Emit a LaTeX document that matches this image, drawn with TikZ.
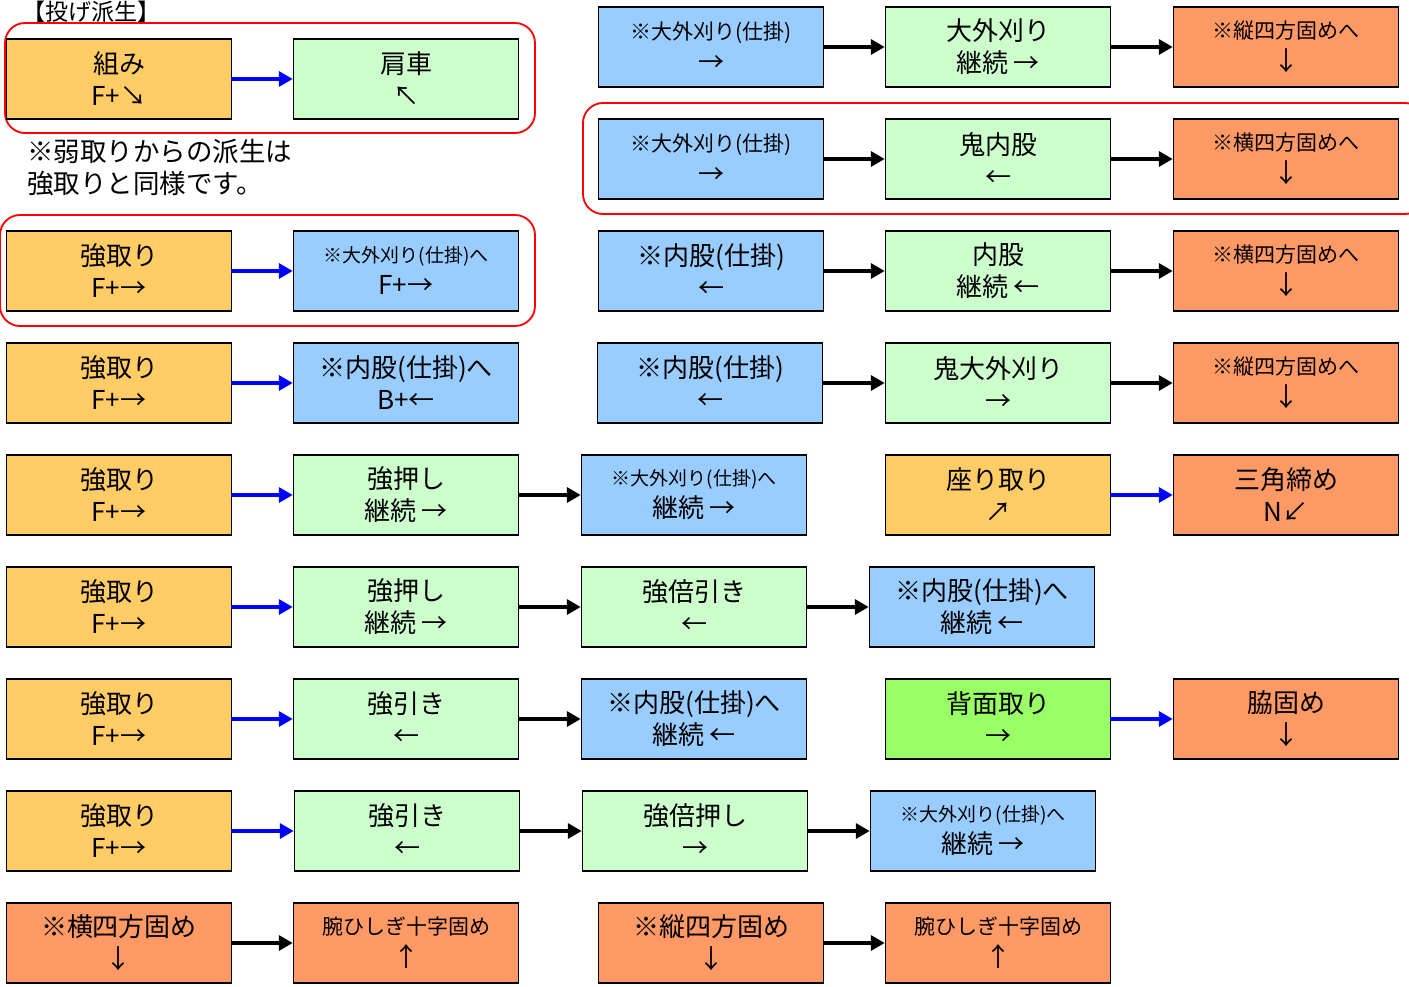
\documentclass[tikz,border=0pt]{standalone}
\usepackage{fontspec}
\setmainfont{Noto Sans CJK JP}
\usetikzlibrary{arrows.meta}
\definecolor{cyel}{HTML}{FFCC66}
\definecolor{cgrn}{HTML}{CCFFCC}
\definecolor{cblu}{HTML}{99CCFF}
\definecolor{corg}{HTML}{FF9966}
\definecolor{cbgr}{HTML}{99FF66}
\newcommand{\sm}{\fontsize{21}{29}\selectfont}
\newcommand{\xs}{\fontsize{19}{28}\selectfont}
\begin{document}
\begin{tikzpicture}[x=1pt,y=-1pt,
  bx/.style={draw=black, line width=1.5pt, minimum width=225pt, minimum height=80pt, inner sep=0pt, align=center, font=\fontsize{26}{32}\selectfont},
  yel/.style={bx, fill=cyel}, grn/.style={bx, fill=cgrn}, blu/.style={bx, fill=cblu}, org/.style={bx, fill=corg}, bgr/.style={bx, fill=cbgr},
  barr/.style={draw=blue, line width=4pt, -{Triangle[length=14pt,width=15pt]}, shorten <=-1pt},
  karr/.style={draw=black, line width=4pt, -{Triangle[length=14pt,width=15pt]}, shorten <=-1pt},
  grp/.style={draw=red, line width=1.8pt, rounded corners=20pt},
  txt/.style={inner sep=0pt, font=\fontsize{26.5}{32}\selectfont, align=left}]
\useasboundingbox (0,0) rectangle (1409,987);
% red groups
\draw[grp] (5,23) rectangle (535,133);
\draw[grp] (0,215) rectangle (535,326);
\draw[grp] (583,103) rectangle (1425,214);
% title and note
\node[txt, anchor=west, font=\fontsize{23}{28}\selectfont] (title) at (22,12) {【投げ派生】};
\node[txt, anchor=north west] (note) at (27,139) {※弱取りからの派生は\\強取りと同様です。};
% left rows
\node[yel] (L1a) at (119,79) {組み\\F+↘};
\node[grn] (L1b) at (406,79) {肩車\\↖};
\node[yel] (L2a) at (119,271) {強取り\\F+→};
\node[blu] (L2b) at (406,271) {{\xs ※大外刈り(仕掛)へ}\\F+→};
\node[yel] (L3a) at (119,383) {強取り\\F+→};
\node[blu] (L3b) at (406,383) {※内股(仕掛)へ\\B+←};
\node[yel] (L4a) at (119,495) {強取り\\F+→};
\node[grn] (L4b) at (406,495) {強押し\\継続 →};
\node[blu] (L4c) at (694,495) {{\xs ※大外刈り(仕掛)へ}\\継続 →};
\node[yel] (L5a) at (119,607) {強取り\\F+→};
\node[grn] (L5b) at (406,607) {強押し\\継続 →};
\node[grn] (L5c) at (694,607) {強倍引き\\←};
\node[blu] (L5d) at (982,607) {※内股(仕掛)へ\\継続 ←};
\node[yel] (L6a) at (119,719) {強取り\\F+→};
\node[grn] (L6b) at (406,719) {強引き\\←};
\node[blu] (L6c) at (694,719) {※内股(仕掛)へ\\継続 ←};
\node[yel] (L7a) at (119,831) {強取り\\F+→};
\node[grn] (L7b) at (407,831) {強引き\\←};
\node[grn] (L7c) at (695,831) {強倍押し\\→};
\node[blu] (L7d) at (983,831) {{\xs ※大外刈り(仕掛)へ}\\継続 →};
\node[org] (L8a) at (119,943) {※横四方固め\\↓};
\node[org] (L8b) at (406,943) {{\sm 腕ひしぎ十字固め}\\↑};
% right rows
\node[blu] (RAa) at (711,47) {{\sm ※大外刈り(仕掛)}\\→};
\node[grn] (RAb) at (998,47) {大外刈り\\継続 →};
\node[org] (RAc) at (1286,47) {{\sm ※縦四方固めへ}\\↓};
\node[blu] (RBa) at (711,159) {{\sm ※大外刈り(仕掛)}\\→};
\node[grn] (RBb) at (998,159) {鬼内股\\←};
\node[org] (RBc) at (1286,159) {{\sm ※横四方固めへ}\\↓};
\node[blu] (RCa) at (711,271) {※内股(仕掛)\\←};
\node[grn] (RCb) at (998,271) {内股\\継続 ←};
\node[org] (RCc) at (1286,271) {{\sm ※横四方固めへ}\\↓};
\node[blu] (RDa) at (710,383) {※内股(仕掛)\\←};
\node[grn] (RDb) at (998,383) {鬼大外刈り\\→};
\node[org] (RDc) at (1286,383) {{\sm ※縦四方固めへ}\\↓};
\node[yel] (REa) at (998,495) {座り取り\\↗};
\node[org] (REb) at (1286,495) {三角締め\\N↙};
\node[bgr] (RGa) at (998,719) {背面取り\\→};
\node[org] (RGb) at (1286,719) {脇固め\\↓};
\node[org] (RIa) at (711,943) {※縦四方固め\\↓};
\node[org] (RIb) at (998,943) {{\sm 腕ひしぎ十字固め}\\↑};
% connectors
\draw[barr] (L1a) -- (L1b);
\draw[barr] (L2a) -- (L2b);
\draw[barr] (L3a) -- (L3b);
\draw[barr] (L4a) -- (L4b);
\draw[karr] (L4b) -- (L4c);
\draw[barr] (L5a) -- (L5b);
\draw[karr] (L5b) -- (L5c);
\draw[karr] (L5c) -- (L5d);
\draw[barr] (L6a) -- (L6b);
\draw[karr] (L6b) -- (L6c);
\draw[barr] (L7a) -- (L7b);
\draw[karr] (L7b) -- (L7c);
\draw[karr] (L7c) -- (L7d);
\draw[karr] (L8a) -- (L8b);
\draw[karr] (RAa) -- (RAb);
\draw[karr] (RAb) -- (RAc);
\draw[karr] (RBa) -- (RBb);
\draw[karr] (RBb) -- (RBc);
\draw[karr] (RCa) -- (RCb);
\draw[karr] (RCb) -- (RCc);
\draw[karr] (RDa) -- (RDb);
\draw[karr] (RDb) -- (RDc);
\draw[barr] (REa) -- (REb);
\draw[barr] (RGa) -- (RGb);
\draw[karr] (RIa) -- (RIb);
\end{tikzpicture}
\end{document}
